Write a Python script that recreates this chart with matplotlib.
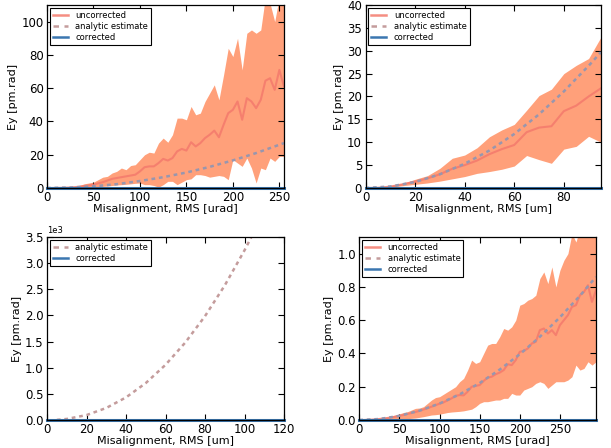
import matplotlib
matplotlib.use("Agg")
import matplotlib.pyplot as plt
from matplotlib.lines import Line2D
import numpy as np

# panel 1 : angle misalignment [urad]
x1 = np.arange(0, 256, 5)
mean1 = [0, 0, 0.05, 0.1, 0.2, 0.3, 0.5, 0.8, 1.2, 1.6, 2.0, 2.8, 3.5, 4.5, 5.5, 6.0,
         6.5, 7.0, 7.5, 8.0, 10.0, 12.5, 13.0, 13.0, 15.0, 17.5, 16.5, 18.0, 22.0, 23.5,
         22.5, 27.5, 25.0, 27.0, 30.0, 32.0, 34.5, 30.5, 38.0, 45.0, 47.0, 52.0, 41.0,
         54.0, 52.0, 48.0, 53.0, 64.5, 66.0, 59.0, 71.0, 61.0]
up1 = [0, 0, 0.1, 0.2, 0.3, 0.5, 0.9, 1.5, 2.5, 3.0, 3.5, 5.0, 6.5, 7.0, 9.0, 10.0,
       12.0, 11.0, 13.5, 14.0, 17.0, 20.0, 21.5, 21.0, 27.0, 30.0, 27.5, 32.0, 42.0, 42.0,
       41.0, 49.0, 44.0, 45.0, 52.0, 57.0, 62.0, 53.0, 68.0, 84.0, 79.0, 90.0, 71.0,
       93.0, 95.0, 93.0, 95.0, 115.0, 111.0, 100.0, 115.0, 112.0]
lo1 = [0, 0, 0, 0.02, 0.05, 0.08, 0.12, 0.16, 0.2, 0.3, 0.5, 0.7, 1.0, 1.2, 1.5, 1.8,
       2.0, 2.2, 2.5, 2.8, 3.0, 2.0, 2.0, 1.5, 0.5, 2.0, 4.0, 4.0, 2.0, 3.5,
       5.0, 5.5, 8.0, 8.0, 7.5, 6.5, 7.0, 7.5, 7.0, 5.0, 17.0, 15.0, 13.0,
       18.0, 12.0, 3.0, 12.0, 11.0, 18.0, 16.0, 19.0, 19.0]
xa1 = [0, 25, 50, 75, 100, 125, 150, 175, 200, 225, 255]
ana1 = [0, 0.27, 1.04, 2.3, 4.2, 6.5, 9.3, 12.7, 16.6, 21.0, 27.0]

# panel 2 : offset misalignment [um]
x2 = np.arange(0, 96, 5)
mean2 = [0, 0.05, 0.3, 0.8, 1.4, 2.1, 3.0, 4.2, 5.0, 6.0, 7.4, 8.5, 9.4, 12.2, 13.2,
         13.5, 16.8, 18.0, 20.0, 21.8]
up2 = [0, 0.1, 0.5, 1.0, 1.9, 2.7, 4.3, 6.5, 7.2, 8.8, 11.2, 12.7, 13.9, 17.0, 20.2,
       21.6, 25.0, 26.8, 28.3, 33.0]
lo2 = [0, 0.02, 0.2, 0.5, 0.8, 1.1, 1.5, 2.0, 2.5, 3.2, 3.6, 4.1, 4.8, 7.1, 6.2,
       5.4, 8.5, 9.1, 11.3, 10.0]
xa2 = [0, 10, 20, 30, 40, 50, 60, 70, 80, 90, 95]
ana2 = [0, 0.33, 1.3, 3.0, 5.3, 8.2, 11.8, 16.1, 21.1, 26.7, 29.7]

# panel 3 : analytic only [um]
xa3 = [5, 10, 20, 30, 40, 50, 60, 70, 80, 90, 100, 104]
ana3 = [3, 20, 94, 230, 432, 706, 1055, 1481, 1986, 2574, 3245, 3537]

# panel 4 : angle misalignment [urad]
x4 = np.arange(0, 296, 5)
mean4 = [0, 0.0, 0.001, 0.002, 0.004, 0.006, 0.009, 0.012, 0.016, 0.02, 0.025, 0.03,
         0.036, 0.042, 0.048, 0.055, 0.063, 0.071, 0.08, 0.089, 0.098, 0.106, 0.118,
         0.13, 0.145, 0.15, 0.148, 0.17, 0.2, 0.205, 0.21, 0.235, 0.255, 0.26, 0.275,
         0.285, 0.3, 0.335, 0.33, 0.36, 0.41, 0.415, 0.43, 0.46, 0.47, 0.54, 0.55, 0.52,
         0.54, 0.51, 0.57, 0.6, 0.63, 0.68, 0.69, 0.75, 0.77, 0.81, 0.71, 0.78]
up4 = [0, 0.001, 0.002, 0.004, 0.006, 0.009, 0.013, 0.018, 0.024, 0.03, 0.037, 0.045,
       0.05, 0.06, 0.07, 0.072, 0.08, 0.1, 0.12, 0.135, 0.14, 0.155, 0.17, 0.185, 0.2,
       0.23, 0.25, 0.3, 0.36, 0.34, 0.35, 0.4, 0.45, 0.46, 0.46, 0.5, 0.55, 0.54, 0.56,
       0.6, 0.69, 0.7, 0.72, 0.73, 0.75, 0.85, 0.89, 0.82, 0.92, 0.8, 0.9, 0.96, 1.0,
       1.12, 1.07, 1.15, 1.2, 1.25, 1.2, 1.25]
lo4 = [0, 0, 0, 0, 0, 0, 0, 0, 0.001, 0.002, 0.003, 0.005, 0.008, 0.01, 0.012, 0.016,
       0.02, 0.025, 0.03, 0.032, 0.035, 0.04, 0.045, 0.048, 0.05, 0.052, 0.055, 0.06,
       0.065, 0.08, 0.1, 0.11, 0.11, 0.115, 0.12, 0.12, 0.13, 0.13, 0.16, 0.15, 0.15,
       0.18, 0.19, 0.2, 0.22, 0.23, 0.22, 0.19, 0.21, 0.23, 0.23, 0.23, 0.24, 0.26,
       0.33, 0.3, 0.31, 0.35, 0.33, 0.35]
xa4 = [0, 25, 50, 75, 100, 125, 150, 175, 200, 225, 250, 275, 295]
ana4 = [0, 0.006, 0.025, 0.056, 0.099, 0.154, 0.222, 0.303, 0.395, 0.5, 0.617, 0.747, 0.86]

FILL = '#ffa07a'
UNCOR = '#f47a6c'
ANA = '#c49c9c'
ANA_ON_FILL = '#9896ae'
COR = '#3b76b0'

plt.rcParams['font.family'] = 'DejaVu Sans'
plt.rcParams['font.size'] = 7.5

fig = plt.figure(figsize=(6.11, 4.48), dpi=100)
W, H = 611.0, 448.0


def mkax(left, right, top, bottom):
    ax = fig.add_axes([left / W, (H - bottom) / H, (right - left) / W, (bottom - top) / H])
    ax.tick_params(direction='in', top=True, right=True, length=4, width=0.8, labelsize=8.5)
    ax.tick_params(axis='y', pad=2.5)
    ax.tick_params(axis='x', pad=2.5)
    for s in ax.spines.values():
        s.set_linewidth(0.9)
    return ax


def legend(ax, with_uncor=True):
    h = []
    if with_uncor:
        h.append(Line2D([], [], color=UNCOR, lw=1.8, alpha=0.85, label='uncorrected'))
    h.append(Line2D([], [], color=ANA, lw=1.8, ls=(0, (2.2, 2.2)), label='analytic estimate'))
    h.append(Line2D([], [], color=COR, lw=1.8, label='corrected'))
    leg = ax.legend(handles=h, loc='upper left', fontsize=6, fancybox=False,
                    handlelength=1.8, handletextpad=0.9, borderpad=0.35,
                    labelspacing=0.25, borderaxespad=0.35, framealpha=1)
    leg.get_frame().set_edgecolor('black')
    leg.get_frame().set_linewidth(0.8)


def panel(ax, x, lo, up, mean, xa, ana, xmax, ymax, xlabel):
    ax.fill_between(x, lo, up, color=FILL, lw=0)
    ax.plot(x, mean, color=UNCOR, lw=1.5, alpha=0.85)
    ax.plot(xa, ana, color=ANA_ON_FILL, lw=1.8, ls=(0, (1.5, 1.5)))
    ax.plot([0, xmax], [0, 0], color=COR, lw=2.2, clip_on=False)
    ax.set_xlim(0, xmax)
    ax.set_ylim(0, ymax)
    ax.set_xlabel(xlabel, fontsize=8, labelpad=0)
    ax.set_ylabel('Ey [pm.rad]', fontsize=8, labelpad=2)
    legend(ax)


ax1 = mkax(47, 284, 5, 188)
panel(ax1, x1, lo1, up1, mean1, xa1, ana1, 255, 110, 'Misalignment, RMS [urad]')
ax1.set_xticks(range(0, 251, 50))
ax1.set_yticks(range(0, 101, 20))

ax2 = mkax(365.5, 601, 5, 188)
panel(ax2, x2, lo2, up2, mean2, xa2, ana2, 95, 40, 'Misalignment, RMS [um]')
ax2.set_xticks(range(0, 81, 20))
ax2.set_yticks(range(0, 41, 5))

ax3 = mkax(47, 284, 237, 420)
ax3.plot(xa3, ana3, color=ANA, lw=1.8, ls=(0, (1.5, 1.5)))
ax3.plot([0, 120], [0, 0], color=COR, lw=2.2, clip_on=False)
ax3.set_xlim(0, 120)
ax3.set_ylim(0, 3500)
ax3.set_xticks(range(0, 121, 20))
ax3.set_yticks(np.arange(0, 3501, 500))
ax3.ticklabel_format(axis='y', style='sci', scilimits=(0, 0))
ax3.yaxis.get_offset_text().set_fontsize(6)
ax3.set_xlabel('Misalignment, RMS [um]', fontsize=8, labelpad=0)
ax3.set_ylabel('Ey [pm.rad]', fontsize=8, labelpad=2)
legend(ax3, with_uncor=False)

ax4 = mkax(359.3, 596, 237, 420)
panel(ax4, x4, lo4, up4, mean4, xa4, ana4, 295, 1.1, 'Misalignment, RMS [urad]')
ax4.set_xticks(range(0, 251, 50))
ax4.set_yticks(np.arange(0, 1.01, 0.2))

fig.savefig('out.png', dpi=100)
